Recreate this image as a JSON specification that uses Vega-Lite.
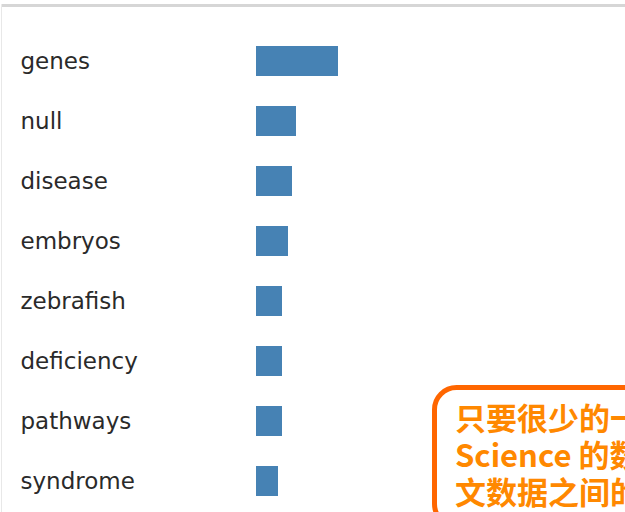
{
  "$schema": "https://vega.github.io/schema/vega-lite/v6.json",
  "autosize": {"type": "none"},
  "width": 624,
  "height": 507,
  "padding": {"left": 1, "top": 5, "right": 0, "bottom": 0},
  "background": "white",
  "config": {"view": {"stroke": null}},
  "data": {
    "values": [
      {"word": "genes", "count": 41},
      {"word": "null", "count": 20},
      {"word": "disease", "count": 18},
      {"word": "embryos", "count": 16},
      {"word": "zebrafish", "count": 13},
      {"word": "deficiency", "count": 13},
      {"word": "pathways", "count": 13},
      {"word": "syndrome", "count": 11}
    ]
  },
  "layer": [
    {
      "mark": {"type": "bar", "color": "#4682b4"},
      "encoding": {
        "y": {
          "field": "word",
          "type": "nominal",
          "sort": null,
          "scale": {"paddingInner": 0.5, "paddingOuter": 0.475, "align": 0.7193},
          "axis": {
            "orient": "left",
            "title": null,
            "ticks": false,
            "tickSize": 0,
            "grid": false,
            "labelAlign": "left",
            "labelBaseline": "middle",
            "labelPadding": -19,
            "labelOffset": 1,
            "labelFont": "DejaVu Sans",
            "labelFontSize": 23,
            "labelColor": "#2a2a2a",
            "labelLimit": 300,
            "domainColor": "#e8e8e8",
            "domainWidth": 1
          }
        },
        "x": {
          "field": "count",
          "type": "quantitative",
          "scale": {"domain": [-127.5, 184.5], "nice": false, "zero": false},
          "axis": {
            "orient": "top",
            "labels": false,
            "ticks": false,
            "grid": false,
            "title": null,
            "domainColor": "#d6d6d6",
            "domainWidth": 3
          }
        }
      }
    },
    {
      "data": {"values": [{"note": "callout"}]},
      "mark": {"type": "rect", "fill": "white", "stroke": "#ff6600", "strokeWidth": 5, "cornerRadius": 22, "clip": true},
      "encoding": {
        "x": {"datum": 89.25, "type": "quantitative"},
        "x2": {"datum": 200},
        "y": {"datum": "pathways", "type": "nominal", "bandPosition": -0.617},
        "y2": {"datum": "syndrome", "bandPosition": 2}
      }
    },
    {
      "data": {"values": [{"lines": ["只要很少的一", "Science 的数", "文数据之间的"]}]},
      "mark": {
        "type": "text",
        "font": "Noto Sans CJK SC",
        "fontSize": 31,
        "fontWeight": "bold",
        "fill": "#ff8800",
        "align": "left",
        "baseline": "alphabetic",
        "lineHeight": 37,
        "clip": true
      },
      "encoding": {
        "x": {"datum": 99.5, "type": "quantitative"},
        "y": {"datum": "pathways", "type": "nominal", "bandPosition": 0.8},
        "text": {"field": "lines"}
      }
    }
  ]
}
